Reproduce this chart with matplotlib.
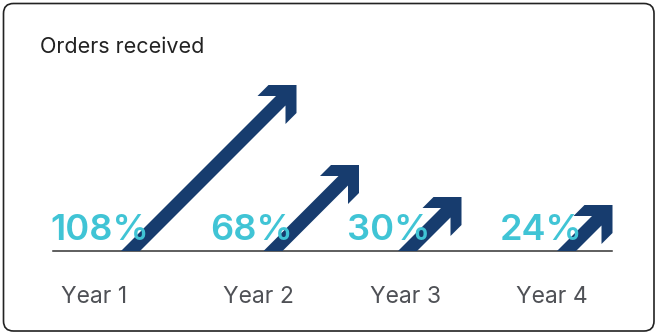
# orders received chart
#   growth per year, arrows + big percentage labels

import matplotlib
matplotlib.use("Agg")
import matplotlib.pyplot as plt
from matplotlib.patches import Polygon, FancyBboxPatch

# data
years = ["Year 1", "Year 2", "Year 3", "Year 4"]
growth = [108, 68, 30, 24]              # percent shown
arrow_rise = [166, 86, 54, 46]          # arrow height (px)

# layout (pixel coords, y down)
W, H = 658, 335
base_y = 251
label_x = [94, 258, 406, 552]           # year label centres
pct_x = [50, 210, 347, 500]             # left edge of the % text
arrow_x = [130.5, 273, 407.5, 566.5]    # arrow foot centre

navy = "#173c6e"
teal = "#40c4d5"
plt.rcParams['font.family'] = ['Inter', 'DejaVu Sans']


def arrow(ax, x0, rise):
    # 45 degree arrow, tip at (x0 + rise, base_y - rise)
    tx, ty = x0 + rise, base_y - rise
    hw = 9.5
    pts = [(0, 0), (-28, 0), (-39, 11), (-hw - 11, 11),
           (-hw - rise, rise), (hw - rise, rise),
           (-11, hw + 11), (-11, 39), (0, 28)]
    pts = [(tx + a, ty + b) for a, b in pts]
    ax.add_patch(Polygon(pts, closed=True, color=navy, lw=0, zorder=2))


fig = plt.figure(figsize=(W / 100, H / 100), dpi=100)
ax = fig.add_axes([0, 0, 1, 1])
ax.set_xlim(0, W)
ax.set_ylim(H, 0)
ax.axis("off")

# card border
ax.add_patch(FancyBboxPatch((3.5, 3.5), W - 7.5, H - 7.5,
             boxstyle="round,pad=0,rounding_size=10",
             fc="white", ec="#222222", lw=1.2, zorder=0))

ax.text(40, 53, "Orders received", fontsize=15.5, color="#222222",
        ha="left", va="baseline")

ax.plot([53, 612], [base_y, base_y], color="#333333", lw=1.1, zorder=1)

for i, v in enumerate(growth):
    arrow(ax, arrow_x[i], arrow_rise[i])
    ax.text(pct_x[i], 240, f"{v}%", fontsize=26, color=teal,
            fontweight="semibold", ha="left", va="baseline", zorder=3)
    ax.text(label_x[i], 303, years[i], fontsize=16.5, color="#4f5156",
            ha="center", va="baseline", zorder=3)

fig.savefig("out.png", dpi=100)
